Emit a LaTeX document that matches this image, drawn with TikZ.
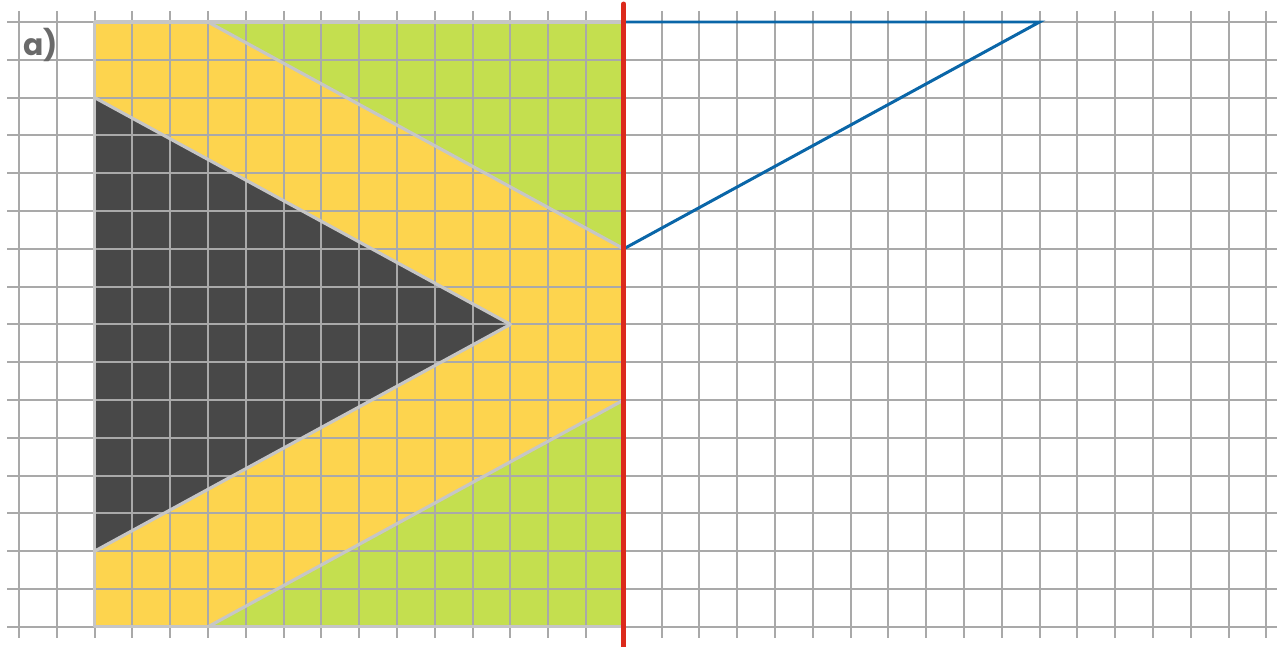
\documentclass[tikz,border=0pt]{standalone}
\usepackage{fontspec}
\newfontfamily\lblfont{Poppins Bold}
\definecolor{gridc}{HTML}{A9A9A9}
\definecolor{edgec}{HTML}{C6C6C6}
\definecolor{yel}{HTML}{FDD44E}
\definecolor{grn}{HTML}{C4DF4F}
\definecolor{blk}{HTML}{484848}
\definecolor{blu}{HTML}{0A66A8}
\definecolor{redc}{HTML}{DC2A1C}
\definecolor{txtc}{HTML}{6A6A6A}
\tikzset{
  gridline/.style={gridc, line width=1.15pt},
  edgeline/.style={edgec, line width=1.8pt, line join=round},
  blueline/.style={blu, line width=1.7pt, line join=miter},
  redline/.style={redc, line width=2.8pt, line cap=round},
}
\begin{document}
\begin{tikzpicture}[x=0.756cm, y=-0.756cm]
\useasboundingbox (-0.5026,-0.582) rectangle (33.360,16.534);
\clip (-0.5026,-0.582) rectangle (33.360,16.534);
% corner points
\coordinate (A) at (2,0);
\coordinate (B) at (5,0);
\coordinate (C) at (16,0);
\coordinate (D) at (16,6);
\coordinate (E) at (16,10);
\coordinate (F) at (16,16);
\coordinate (G) at (5,16);
\coordinate (H) at (2,16);
\coordinate (T1) at (2,2);
\coordinate (T2) at (13,8);
\coordinate (T3) at (2,14);
\coordinate (K) at (27,0);
% fills
\fill[yel] (A) rectangle (F);
\fill[grn] (B) -- (C) -- (D) -- cycle;
\fill[grn] (G) -- (F) -- (E) -- cycle;
\fill[blk] (T1) -- (T2) -- (T3) -- cycle;
% grid
\foreach \i in {0,...,33} \draw[gridline] (\i,-0.291) -- (\i,16.30);
\foreach \j in {0,...,16} \draw[gridline] (-0.317,\j) -- (33.28,\j);
% edges
\draw[edgeline] (A) rectangle (F);
\draw[edgeline] (B) -- (D);
\draw[edgeline] (G) -- (E);
\draw[edgeline] (T1) -- (T2) -- (T3);
% blue triangle
\draw[blueline] (C) -- (K) -- (D);
% red mirror line
\coordinate (R1) at (16,-0.476);
\coordinate (R2) at (16,17);
\draw[redline] (R1) -- (R2);
% label
\node[text=txtc, font=\lblfont\fontsize{17}{20}\selectfont, inner sep=0pt] (lbl) at (0.57,0.62) {a)};
\end{tikzpicture}
\end{document}
